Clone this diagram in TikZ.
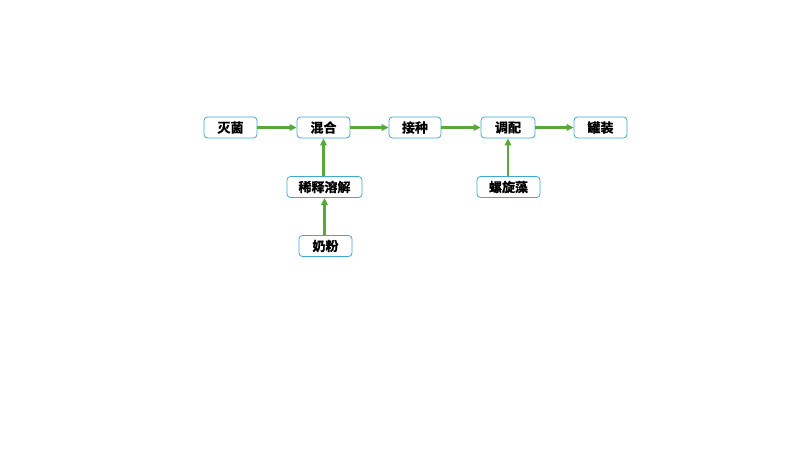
\documentclass[tikz,border=0pt]{standalone}
\usepackage{fontspec}
\newfontfamily\cjk{Noto Sans CJK SC}[BoldFont={* Bold},BoldFeatures={FakeBold=1.2}]
\usetikzlibrary{arrows.meta}
\definecolor{boxblue}{HTML}{3FA9D0}
\definecolor{arrgreen}{HTML}{58A83A}
\begin{document}
\begin{tikzpicture}[x=1pt,y=-1pt,
  procbox/.style={draw=boxblue,line width=0.8pt,rounded corners=3.5pt,fill=white,
    minimum height=21pt,inner sep=0pt,font=\cjk\bfseries\fontsize{13}{15}\selectfont},
  flow/.style={draw=arrgreen,line width=2.2pt,-{Triangle[length=7pt,width=6.5pt]}}]
\useasboundingbox (0,0) rectangle (800,450);
\node[procbox,minimum width=53pt] (mj) at (230.5,127.5) {灭菌};
\node[procbox,minimum width=53pt] (hh) at (323.5,127.5) {混合};
\node[procbox,minimum width=52pt] (jz) at (415,127.5) {接种};
\node[procbox,minimum width=54pt] (tp) at (508,127.5) {调配};
\node[procbox,minimum width=53pt] (gz) at (600.5,127.5) {罐装};
\node[procbox,minimum width=75pt] (xs) at (324.5,187) {稀释溶解};
\node[procbox,minimum width=53pt] (nf) at (325.5,246) {奶粉};
\node[procbox,minimum width=63pt] (lxz) at (508.5,187) {螺旋藻};
\draw[flow] (mj) -- (hh);
\draw[flow] (hh) -- (jz);
\draw[flow] (jz) -- (tp);
\draw[flow] (tp) -- (gz);
\draw[flow] (xs.north -| hh) -- (hh.south);
\draw[flow] (nf.north -| xs) -- (xs.south);
\draw[flow] (lxz.north -| tp) -- (tp.south);
\end{tikzpicture}
\end{document}
